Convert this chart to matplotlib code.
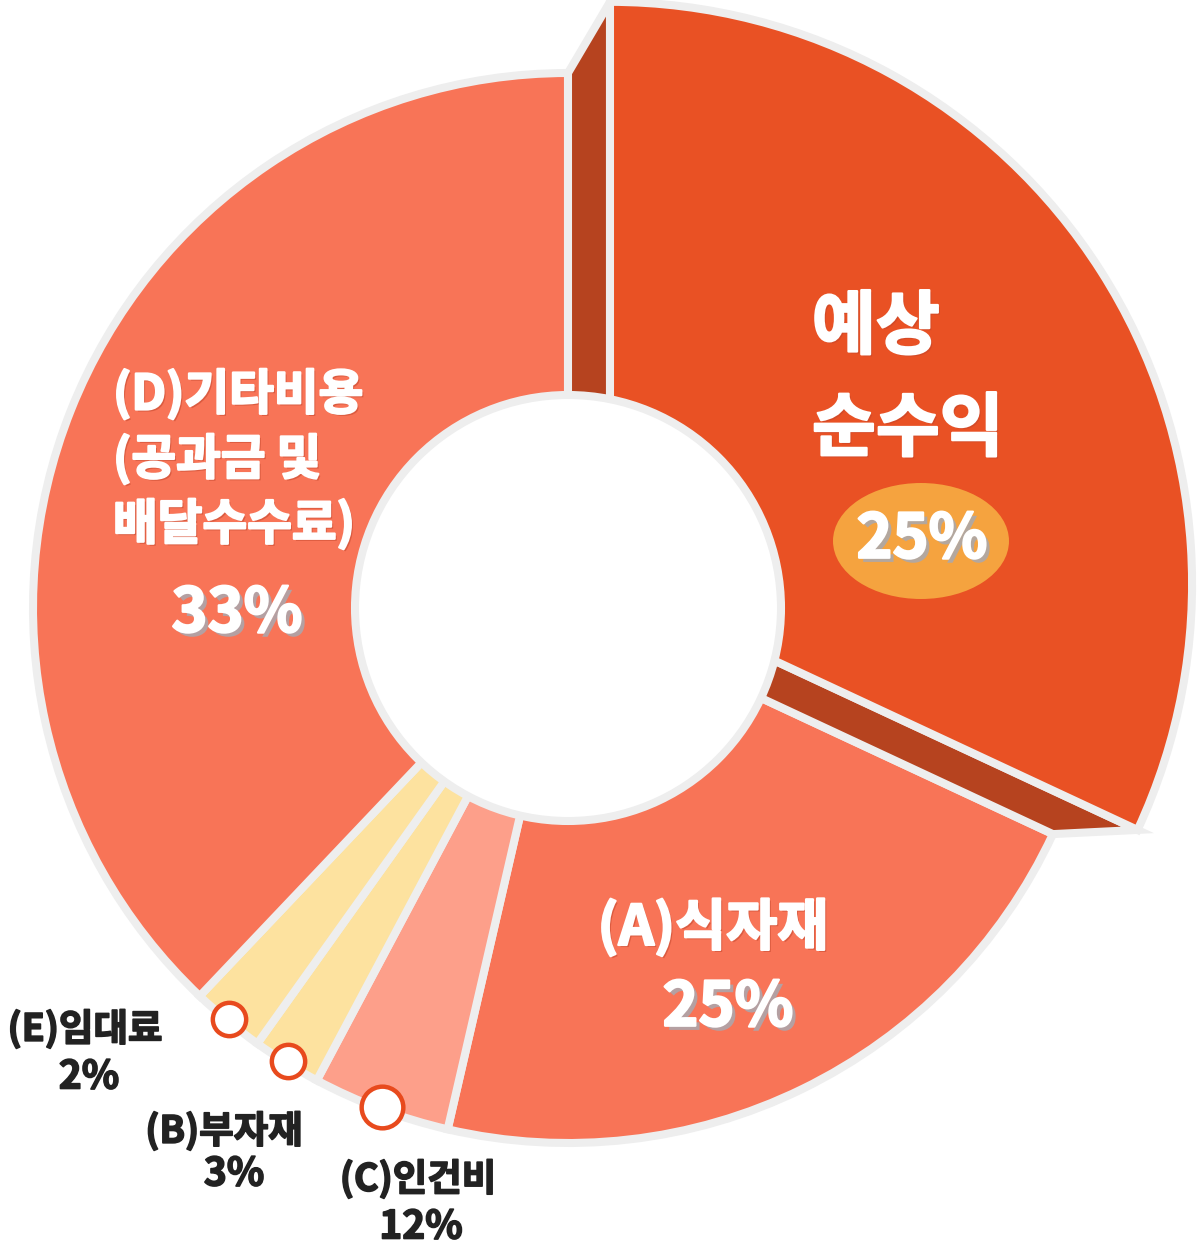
import numpy as np
import matplotlib
matplotlib.use('Agg')
import matplotlib.pyplot as plt
from matplotlib.patches import Circle, Ellipse, Polygon
import matplotlib.patheffects as pe

plt.rcParams['font.family'] = ['Noto Sans CJK KR', 'DejaVu Sans']

# slices, clockwise from 12 o'clock
names = ['예상\n순수익', '(A)식자재', '(C)인건비', '(B)부자재', '(E)임대료',
         '(D)기타비용\n(공과금 및\n배달수수료)']
pct_text = ['25%', '25%', '12%', '3%', '2%', '33%']
# slice sizes as drawn in the picture (degrees of the ring)
slice_deg = [115, 78, 15, 7.5, 8, 136.5]
colors = ['#e95124', '#f87457', '#fd9f8a', '#fde29f', '#fde29f', '#f87457']

EDGE = '#eeeeee'
LW = 5.8
CX, CY, SCALE = 568, 608, 535.0   # donut centre and radius in pixels


def px(x, y):
    # pixel position -> data coords (unit radius donut)
    return (x - CX) / SCALE, (CY - y) / SCALE


fig = plt.figure(figsize=(12, 12.55), dpi=100)
ax = fig.add_axes([0, 0, 1, 1])

wedges, _ = ax.pie(slice_deg, colors=colors, startangle=90, counterclock=False,
                   radius=1.0, wedgeprops=dict(edgecolor=EDGE, linewidth=LW))
for w in wedges:
    w.set_zorder(1)

# pulled-out profit slice with its dark side faces
shift = np.array([0.0785, 0.045])
big_r = 1.088
top = wedges[0]
top.set_center(tuple(shift))
top.set_radius(big_r)
top.set_zorder(3)
for ang in (top.theta1, top.theta2):
    d = np.array([np.cos(np.deg2rad(ang)), np.sin(np.deg2rad(ang))])
    face = Polygon([(0, 0), d * 1.0, shift + d * big_r, shift], closed=True,
                   facecolor='#b6431f', edgecolor=EDGE, linewidth=LW, zorder=2)
    ax.add_patch(face)

# hole
ax.add_patch(Circle((0, 0), 213 / SCALE, facecolor='white', edgecolor=EDGE,
                    linewidth=LW, zorder=4))

# small ring markers on the outer edge of the thin slices
marker_size = {2: 30, 3: 24, 4: 24}
for i, ms in marker_size.items():
    w = wedges[i]
    mid = np.deg2rad((w.theta1 + w.theta2) / 2)
    ax.plot(np.cos(mid) * 0.995, np.sin(mid) * 0.995, 'o', ms=ms, mfc='white',
            mec='#e84a1d', mew=3.2, zorder=6)

white_fx = [pe.withSimplePatchShadow(offset=(1.5, -1.5), shadow_rgbFace='#c0442a', alpha=0.5),
            pe.withStroke(linewidth=1.6, foreground='white')]
pct_fx = [pe.withSimplePatchShadow(offset=(3, -3), shadow_rgbFace='#a8a8b0', alpha=0.85),
          pe.withStroke(linewidth=1.6, foreground='white')]
dark_fx = [pe.withStroke(linewidth=1.2, foreground='#222222')]

# profit label
x, y = px(812, 328)
ax.text(x, y, names[0].split('\n')[0], color='white', fontsize=50, fontweight='bold',
        ha='left', va='center', zorder=7, path_effects=white_fx)
x, y = px(812, 430)
ax.text(x, y, names[0].split('\n')[1], color='white', fontsize=50, fontweight='bold',
        ha='left', va='center', zorder=7, path_effects=white_fx)
ax.add_patch(Ellipse(px(921, 541), 176 / SCALE, 116 / SCALE, facecolor='#f5a33f',
                     edgecolor='none', zorder=6))
x, y = px(922, 540)
ax.text(x, y, pct_text[0], color='white', fontsize=44, fontweight='bold',
        ha='center', va='center', zorder=7, path_effects=pct_fx)

# (A)
x, y = px(713, 928)
ax.text(x, y, names[1], color='white', fontsize=40, fontweight='bold',
        ha='center', va='center', zorder=7, path_effects=white_fx)
x, y = px(728, 1008)
ax.text(x, y, pct_text[1], color='white', fontsize=44, fontweight='bold',
        ha='center', va='center', zorder=7, path_effects=pct_fx)

# (D)
for k, line in enumerate(names[5].split('\n')):
    x, y = px(113, 394 + 65 * k)
    ax.text(x, y, line, color='white', fontsize=35, fontweight='bold',
            ha='left', va='center', zorder=7, path_effects=white_fx)
x, y = px(237, 614)
ax.text(x, y, pct_text[5], color='white', fontsize=44, fontweight='bold',
        ha='center', va='center', zorder=7, path_effects=pct_fx)

# outside labels for the thin slices
outside = {4: ((85, 1029), (89, 1077)),
           3: ((224, 1131), (234, 1174)),
           2: ((418, 1179), (421, 1227))}
for i, (p_name, p_pct) in outside.items():
    x, y = px(*p_name)
    ax.text(x, y, names[i], color='#222222', fontsize=27, fontweight='bold',
            ha='center', va='center', zorder=7, path_effects=dark_fx)
    x, y = px(*p_pct)
    ax.text(x, y, pct_text[i], color='#222222', fontsize=28, fontweight='bold',
            ha='center', va='center', zorder=7, path_effects=dark_fx)

ax.set_xlim(-CX / SCALE, (1200 - CX) / SCALE)
ax.set_ylim(-(1255 - CY) / SCALE, CY / SCALE)
ax.set_aspect('auto')
ax.axis('off')

fig.savefig('out.png', dpi=100, facecolor='white')
